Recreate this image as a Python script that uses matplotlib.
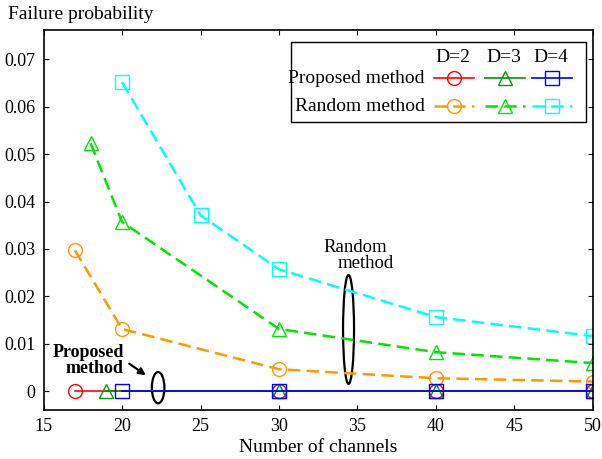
import matplotlib
matplotlib.use('Agg')
from matplotlib import pyplot as plt
from matplotlib.lines import Line2D
from matplotlib.patches import Ellipse, Rectangle

plt.rcParams['font.family'] = ['Liberation Serif', 'DejaVu Serif']
plt.rcParams['font.size'] = 13

# proposed method: no failures for any number of channels
prop_d2_x = [17, 30, 40, 50]
prop_d2_y = [0, 0, 0, 0]
prop_d3_x = [19, 30, 40, 50]
prop_d3_y = [0, 0, 0, 0]
prop_d4_x = [20, 30, 40, 50]
prop_d4_y = [0, 0, 0, 0]

# random method
rand_d2_x = [17, 20, 30, 40, 50]
rand_d2_y = [0.0297, 0.0131, 0.0046, 0.0027, 0.0020]
rand_d3_x = [18, 20, 30, 40, 50]
rand_d3_y = [0.0523, 0.0357, 0.0131, 0.0082, 0.0059]
rand_d4_x = [20, 25, 30, 40, 50]
rand_d4_y = [0.0652, 0.0371, 0.0257, 0.0156, 0.0116]

x_ticks = [15, 20, 25, 30, 35, 40, 45, 50]
y_ticks = [0, 0.01, 0.02, 0.03, 0.04, 0.05, 0.06, 0.07]
y_tick_labels = ['0', '0.01', '0.02', '0.03', '0.04', '0.05', '0.06', '0.07']

d_labels = ['D=2', 'D=3', 'D=4']
prop_colors = ['#ff0000', '#009900', '#0000ff']
rand_colors = ['#ff9900', '#00e600', '#00ffff']
markers = ['o', '^', 's']

fig = plt.figure(figsize=(6.02, 4.59), dpi=100)
ax = fig.add_axes([0.0723, 0.1068, 0.9127, 0.8278])

ms = 10
rand_sets = [(rand_d2_x, rand_d2_y), (rand_d3_x, rand_d3_y), (rand_d4_x, rand_d4_y)]
for (xs, ys), c, m in zip(rand_sets, rand_colors, markers):
    ax.plot(xs, ys, color=c, linestyle=(0, (5, 2.5)), linewidth=1.8,
            marker=m, markersize=ms, markerfacecolor='none',
            markeredgecolor=c, markeredgewidth=1.0)

prop_sets = [(prop_d2_x, prop_d2_y), (prop_d3_x, prop_d3_y), (prop_d4_x, prop_d4_y)]
for (xs, ys), c, m in zip(prop_sets, prop_colors, markers):
    ax.plot(xs, ys, color=c, linestyle='-', linewidth=1.2,
            marker=m, markersize=ms, markerfacecolor='none',
            markeredgecolor=c, markeredgewidth=1.0)

ax.set_xlim(15, 50)
ax.set_ylim(-0.004, 0.0762)
ax.set_xticks(x_ticks)
ax.set_yticks(y_ticks)
ax.set_yticklabels(y_tick_labels)
ax.tick_params(direction='in', length=3.5, width=0.8, top=True, right=True, pad=6)
for sp in ax.spines.values():
    sp.set_linewidth(1.2)

ax.set_xlabel('Number of channels', fontsize=14, labelpad=3)
fig.text(0.013, 0.968, 'Failure probability', fontsize=14, ha='left', va='center')

# annotations with ellipses
ax.add_patch(Ellipse((22.3, 0.0007), 0.8, 0.0066, fill=False,
                     edgecolor='black', linewidth=1.6))
ax.text(17.83, 0.0082, 'Proposed', ha='center', va='center', fontsize=13,
        fontweight='bold')
ax.text(18.22, 0.0048, 'method', ha='center', va='center', fontsize=13,
        fontweight='bold')
ax.annotate('', xy=(21.66, 0.0030), xytext=(20.32, 0.0061),
            arrowprops=dict(arrowstyle='-|>', color='black', lw=1.6,
                            mutation_scale=10))

ax.add_patch(Ellipse((34.43, 0.0130), 0.7, 0.023, fill=False,
                     edgecolor='black', linewidth=1.6))
ax.text(34.84, 0.0304, 'Random', ha='center', va='center', fontsize=13.5)
ax.text(35.54, 0.0270, 'method', ha='center', va='center', fontsize=13.5)


# legend table drawn in axes coordinates
def fx(px):
    return (px - 43.5) / 549.5


def fy(py):
    return (410 - py) / 380


ax.add_patch(Rectangle((fx(291), fy(122)), fx(586) - fx(291), fy(42) - fy(122),
                       transform=ax.transAxes, facecolor='white',
                       edgecolor='black', linewidth=1.0, zorder=5))
col_x = [454, 505, 552]
for cx, lab in zip(col_x, d_labels):
    ax.text(fx(cx - 1), fy(57), lab, transform=ax.transAxes, ha='center',
            va='center', fontsize=14, zorder=6)
ax.text(fx(425), fy(78), 'Proposed method', transform=ax.transAxes,
        ha='right', va='center', fontsize=14, zorder=6)
ax.text(fx(425), fy(106), 'Random method', transform=ax.transAxes,
        ha='right', va='center', fontsize=14, zorder=6)
for cx, c, m in zip(col_x, prop_colors, markers):
    ax.add_line(Line2D([fx(cx - 20), fx(cx + 20)], [fy(78), fy(78)],
                       transform=ax.transAxes, color=c, linewidth=1.2, zorder=6))
    ax.add_line(Line2D([fx(cx)], [fy(78)], transform=ax.transAxes, marker=m,
                       markersize=ms, markerfacecolor='none', markeredgecolor=c,
                       linestyle='none', zorder=7))
for cx, c, m in zip(col_x, rand_colors, markers):
    ax.add_line(Line2D([fx(cx - 20), fx(cx + 20)], [fy(106), fy(106)],
                       transform=ax.transAxes, color=c, linewidth=1.8,
                       linestyle=(0, (5, 2.5)), zorder=6))
    ax.add_line(Line2D([fx(cx)], [fy(106)], transform=ax.transAxes, marker=m,
                       markersize=ms, markerfacecolor='none', markeredgecolor=c,
                       linestyle='none', zorder=7))

fig.savefig('out.png', dpi=100)
